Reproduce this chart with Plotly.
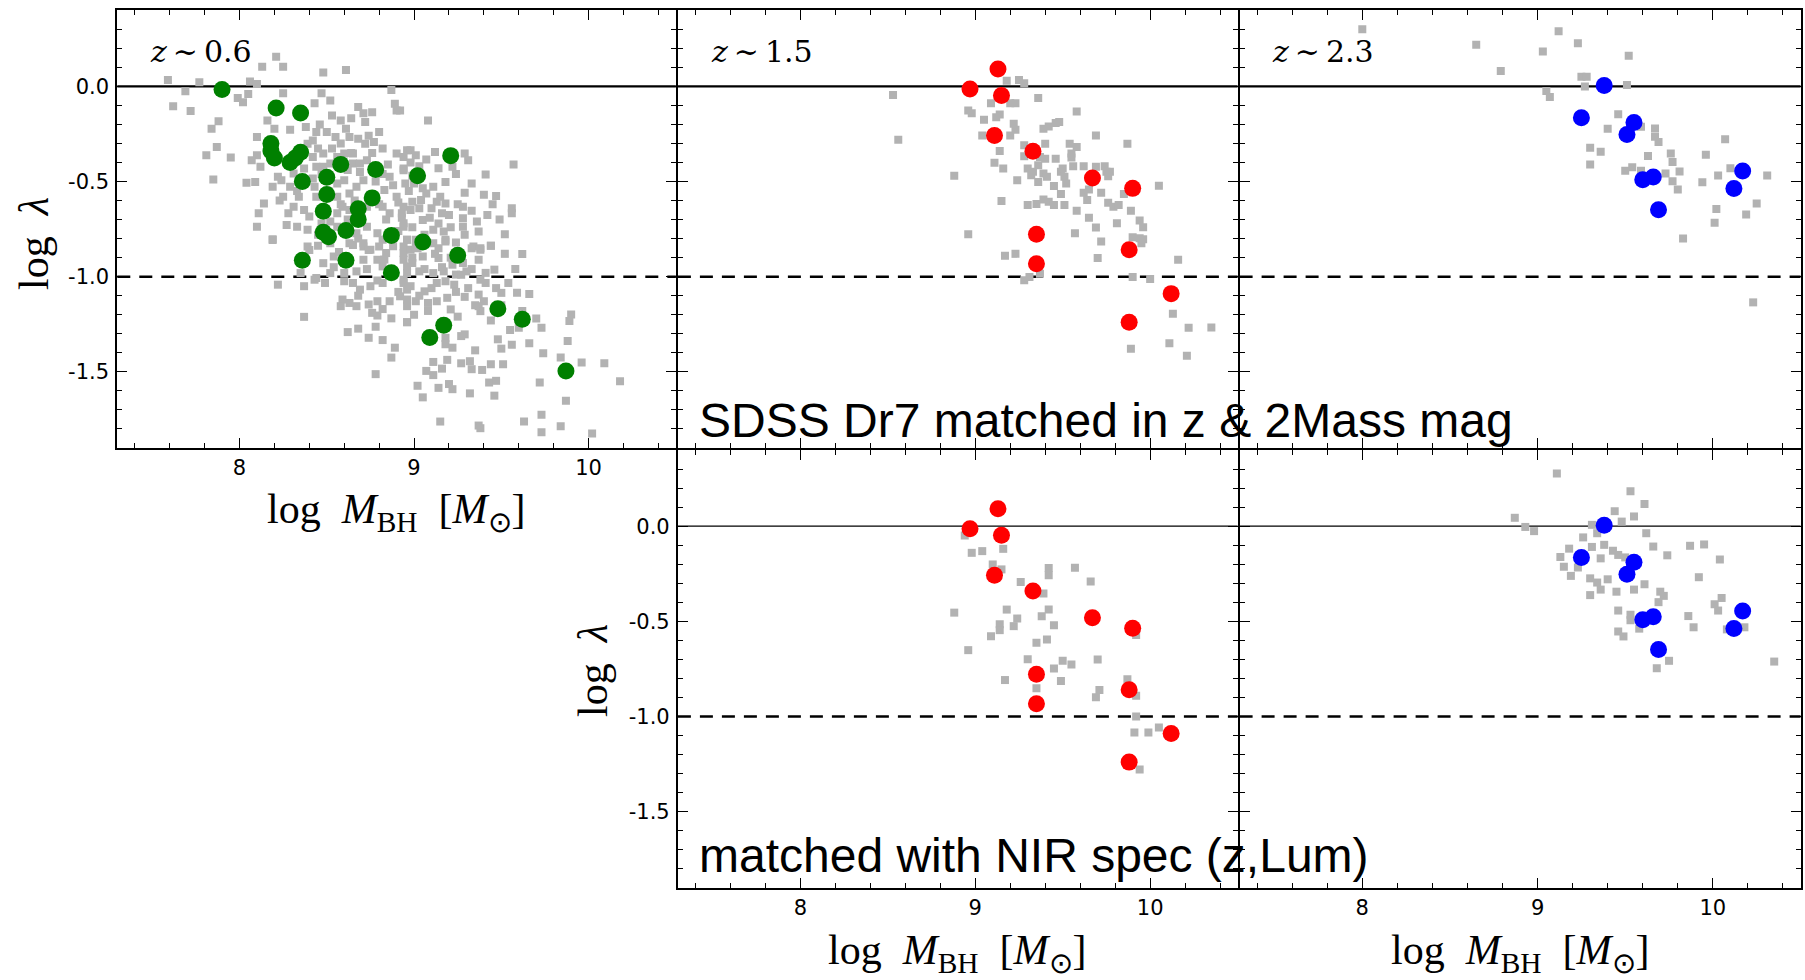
import plotly.graph_objects as go

# ---------------- data ----------------
# z~0.6 : SDSS DR7 comparison sample (grey squares)
mbh_z06_sdss = [
    8.21, 8.13, 8.25, 8.48, 8.61, 7.59, 7.77, 8.06, 8.10, 7.69, 7.62, 7.72, 7.99, 8.05, 8.02, 8.25,
    8.47, 8.52, 8.43, 8.87, 8.89, 8.90, 8.68, 8.71, 8.76, 8.64, 8.53, 8.58, 8.72, 7.88, 7.84, 8.16,
    8.20, 8.29, 8.38, 8.44, 8.50, 8.55, 8.61, 8.80, 8.10, 8.63, 8.68, 8.72, 8.77, 8.82, 8.65, 8.42,
    8.39, 8.45, 8.48, 8.53, 8.56, 8.60, 8.52, 8.48, 7.87, 7.81, 7.95, 8.10, 8.07, 8.12, 8.42, 8.44,
    8.65, 8.69, 8.73, 8.90, 8.96, 7.85, 8.04, 8.09, 8.22, 8.19, 8.24, 8.29, 8.31, 8.37, 8.42, 8.43,
    8.34, 8.25, 8.31, 8.14, 8.11, 8.28, 8.37, 8.40, 8.44, 8.56, 8.60, 8.56, 8.63, 8.67, 8.71, 8.86,
    8.94, 8.83, 8.90, 8.82, 8.86, 8.94, 8.56, 8.59, 8.63, 8.73, 8.10, 8.19, 8.27, 8.33, 8.39, 8.45,
    8.56, 8.67, 8.73, 8.79, 8.82, 8.94, 8.96, 8.71, 8.63,
    8.92, 9.08, 8.98, 8.94, 9.01, 9.07, 9.12, 9.29, 9.31, 9.22, 9.57, 9.41, 8.94, 8.95, 9.00, 9.05,
    9.11, 9.18, 9.07, 8.99, 9.04, 9.13, 9.18, 9.29, 9.47, 8.93, 8.98, 9.03, 9.10, 9.16, 9.20, 9.28,
    9.33, 9.42, 9.56, 9.56, 8.94, 9.05, 9.28, 9.11, 9.17, 9.28, 9.29, 9.37, 9.52, 8.96, 9.01, 9.18,
    9.34, 9.38, 9.44,
    8.19, 8.39, 8.45, 8.52, 8.65, 8.71, 8.75, 8.80, 8.84, 8.54, 8.48, 8.71, 8.79, 8.82, 8.94, 8.96,
    8.35, 8.44, 8.52, 8.60, 8.67, 8.22, 8.37, 8.43, 8.49, 8.60, 8.65, 8.69, 8.75, 8.82, 8.94, 8.96,
    8.59, 8.63, 8.58, 8.67, 8.74, 8.79, 8.86, 8.92, 8.96, 8.76, 8.79, 8.87, 8.96, 8.37, 8.62, 8.68,
    8.78, 8.74, 8.82, 8.89, 8.87, 8.78,
    8.94, 8.98, 9.01, 9.11, 9.14, 9.18, 9.33, 9.38, 9.44, 9.62, 8.94, 8.99, 9.05, 9.14, 9.22, 9.28,
    9.37, 9.46, 8.96, 9.03, 9.11, 9.17, 9.24, 9.30, 9.38, 9.41, 9.54, 8.94, 8.98, 9.06, 9.13, 9.18,
    9.23, 9.37, 9.40, 9.50, 9.59, 9.66, 8.96, 9.01, 9.08, 9.13, 9.19, 9.21, 9.29, 9.37, 9.38, 8.96,
    9.18, 9.29, 9.27, 9.18, 9.18, 9.22, 9.35, 9.48, 9.50, 9.56, 9.60, 9.66, 9.73, 9.74, 9.88, 9.89,
    9.90, 9.84, 9.96, 10.09, 9.11, 9.07, 9.11, 9.16, 9.19, 9.27, 9.32, 9.33, 9.39, 9.44, 9.51, 9.02,
    9.05, 9.14, 9.20, 9.22, 9.32, 9.43, 9.47, 9.46, 9.72, 9.87, 10.18, 9.15, 9.37, 9.38, 9.63, 9.73,
    9.73, 9.84, 10.02,
    8.47, 8.51, 8.62, 8.66, 8.70, 8.75, 8.78, 8.80, 8.84, 8.88, 8.91, 8.93, 8.97, 8.99, 8.85, 8.76,
    8.69, 8.58, 8.52, 8.62, 8.68, 8.74, 8.83, 8.88, 8.91, 8.99, 9.02, 9.06, 9.09, 9.14, 9.21, 9.24,
    9.12, 9.06, 9.16, 9.21, 9.27, 9.33, 9.31, 9.24, 9.10, 9.03, 8.91, 8.86, 8.79, 8.73, 8.63, 8.57,
    8.68, 8.82, 9.00, 9.08, 9.25, 9.35, 9.44, 9.41, 9.47, 9.36, 9.45, 9.40, 9.33, 9.24, 9.14, 9.03,
    8.98, 8.82, 8.64, 8.74, 8.58, 8.46, 8.35, 8.33, 8.23, 8.47, 8.40, 8.54, 8.99, 9.15, 9.25, 9.49,
    9.52, 9.58, 9.50, 9.62, 9.70, 9.55,
]
lam_z06_sdss = [
    0.155, 0.103, 0.103, 0.073, 0.086, 0.033, 0.021, 0.026, 0.012, -0.026, -0.104, -0.130, -0.061, -0.040, -0.083, -0.036,
    -0.036, -0.075, -0.089, -0.019, -0.092, -0.127, -0.109, -0.141, -0.136, -0.167, -0.153, -0.179, -0.188, -0.184, -0.223, -0.179,
    -0.223, -0.228, -0.214, -0.240, -0.240, -0.266, -0.223, -0.240, -0.266, -0.266, -0.275, -0.301, -0.292, -0.327, -0.353, -0.284,
    -0.301, -0.327, -0.353, -0.327, -0.371, -0.353, -0.406, -0.423, -0.319, -0.362, -0.374, -0.362, -0.388, -0.423, -0.371, -0.423,
    -0.406, -0.406, -0.388, -0.353, -0.336, -0.489, -0.507, -0.502, -0.475, -0.528, -0.493, -0.528, -0.458, -0.432, -0.484, -0.528,
    -0.580, -0.580, -0.632, -0.615, -0.667, -0.667, -0.650, -0.684, -0.580, -0.510, -0.493, -0.580, -0.563, -0.528, -0.493, -0.475,
    -0.441, -0.545, -0.580, -0.632, -0.667, -0.632, -0.667, -0.632, -0.650, -0.632, -0.737, -0.803, -0.728, -0.737, -0.754, -0.780,
    -0.737, -0.772, -0.737, -0.772, -0.806, -0.737, -0.806, -0.841, -0.824,
    -0.127, -0.179, -0.336, -0.371, -0.362, -0.385, -0.345, -0.353, -0.388, -0.423, -0.411, -0.463, -0.432, -0.510, -0.510, -0.536,
    -0.528, -0.502, -0.563, -0.606, -0.597, -0.606, -0.615, -0.559, -0.576, -0.667, -0.650, -0.641, -0.641, -0.667, -0.676, -0.632,
    -0.653, -0.676, -0.641, -0.667, -0.719, -0.702, -0.693, -0.754, -0.763, -0.737, -0.780, -0.763, -0.777, -0.806, -0.806, -0.806,
    -0.841, -0.850, -0.838,
    -0.807, -0.841, -0.838, -0.824, -0.833, -0.824, -0.859, -0.841, -0.876, -0.894, -0.929, -0.911, -0.911, -0.946, -0.876, -0.946,
    -0.981, -1.007, -0.981, -0.981, -0.972, -1.042, -1.050, -1.016, -1.033, -1.024, -1.033, -1.068, -1.050, -1.033, -1.016, -1.068,
    -1.120, -1.138, -1.155, -1.155, -1.146, -1.129, -1.129, -1.103, -1.155, -1.190, -1.204, -1.219, -1.239, -1.211, -1.291, -1.273,
    -1.263, -1.321, -1.333, -1.373, -1.425, -1.512,
    -0.841, -0.859, -0.841, -0.824, -0.850, -0.815, -0.850, -0.859, -0.838, -0.881, -0.911, -0.928, -0.894, -0.902, -0.937, -0.928,
    -0.911, -0.963, -0.981, -0.972, -0.981, -0.972, -0.989, -0.972, -1.016, -1.033, -1.033, -1.033, -1.050, -1.077, -1.033, -1.024,
    -1.042, -1.094, -1.129, -1.085, -1.085, -1.091, -1.120, -1.129, -1.138, -1.129, -1.111, -1.172, -1.106, -1.155, -1.181, -1.239,
    -1.242, -1.303, -1.312, -1.321, -1.355, -1.373, -1.387, -1.329, -1.378, -1.357, -1.268, -1.350, -1.268, -1.402, -1.338, -1.233,
    -1.199, -1.425, -1.451, -1.455, -1.448, -1.495, -1.517, -1.483, -1.437, -1.455, -1.444, -1.486, -1.490, -1.460, -1.460, -1.573,
    -1.634, -1.584, -1.564, -1.591, -1.613, -1.556, -1.547, -1.625, -1.556, -1.652, -1.549, -1.761, -1.782, -1.796, -1.761, -1.725,
    -1.817, -1.786, -1.824,
    -0.46, -0.55, -0.44, -0.60, -0.69, -0.57, -0.50, -0.62, -0.70, -0.52, -0.61, -0.69, -0.55, -0.47, -0.41, -0.35,
    -0.45, -0.62, -0.71, -0.70, -0.80, -0.86, -0.91, -0.84, -0.76, -0.74, -0.85, -0.78, -0.69, -0.72, -0.74, -0.82,
    -0.88, -0.96, -0.95, -0.90, -0.99, -0.96, -1.06, -1.08, -1.06, -1.10, -1.08, -0.99, -1.02, -0.96, -0.92, -0.87,
    -1.10, -1.17, -1.20, -1.18, -1.21, -1.15, -1.23, -0.98, -1.06, -0.71, -0.62, -0.57, -0.51, -0.46, -0.43, -0.42,
    -0.40, -0.46, -0.35, -0.26, -0.30, -0.20, -0.35, -0.55, -0.60, -0.72, -0.86, -0.95, -0.90, -0.58, -0.62, -0.70,
    -0.88, -0.96, -1.15, -1.18, -1.22, -1.28,
]

# z~0.6 : our sample (green circles)
mbh_z06 = [7.90, 8.21, 8.35, 8.18, 8.18, 8.20, 8.29, 8.32, 8.35, 8.58, 8.36, 8.50, 8.78, 9.02, 9.21, 8.50, 8.76,
           8.48, 8.68, 8.68, 8.48, 8.51, 8.61, 8.87, 9.05, 8.36, 8.61, 9.25, 8.87, 9.48, 9.62, 9.17, 9.09, 9.87]
lam_z06 = [-0.017, -0.114, -0.14, -0.30, -0.34, -0.376, -0.40, -0.376, -0.346, -0.41, -0.50, -0.477, -0.437, -0.47,
           -0.364, -0.568, -0.586, -0.656, -0.643, -0.70, -0.766, -0.79, -0.757, -0.783, -0.818, -0.914, -0.914,
           -0.888, -0.979, -1.168, -1.224, -1.255, -1.32, -1.495]

# z~1.5 : SDSS DR7 comparison (grey)
mbh_z15_sdss = [
    8.53, 8.56, 8.88, 8.96, 9.18, 9.25, 9.28, 9.36, 9.09, 9.20, 9.23, 8.96, 8.98, 9.05, 9.12, 9.14,
    9.22, 9.23, 9.04, 9.20, 9.39, 9.42, 9.46, 9.48, 9.58, 9.69, 9.87, 9.14, 9.28, 9.28, 9.40, 9.37,
    9.40, 9.46, 9.54, 9.58, 9.55, 9.55, 9.11, 9.16, 9.24, 9.30, 9.33, 9.36, 9.32, 9.36, 9.39, 9.41,
    9.45, 9.49, 9.50, 9.51, 9.52, 9.49, 9.56, 9.62, 9.69, 9.74, 9.75, 9.77, 9.76, 9.62, 9.65, 9.64,
    9.72, 9.85, 9.15, 9.30, 9.35, 9.39, 9.42, 9.45, 9.51, 9.58, 9.65, 9.76, 9.79, 9.82, 9.89, 9.81,
    9.69, 9.94, 9.96, 9.57, 9.72, 9.90, 9.94, 9.96, 9.95, 9.70, 9.17, 9.23, 10.16, 9.28, 9.31, 9.37,
    9.90, 10.00, 10.13, 10.22, 10.11, 9.89, 10.21, 10.05, 10.35,
]
lam_z15_sdss = [
    -0.045, -0.280, -0.470, -0.777, 0.030, 0.033, 0.016, -0.061, -0.089, -0.089, -0.089, -0.127, -0.141, -0.176, -0.162, -0.148,
    -0.197, -0.228, -0.258, -0.258, -0.223, -0.211, -0.193, -0.188, -0.132, -0.258, -0.301, -0.340, -0.310, -0.367, -0.301, -0.371,
    -0.380, -0.380, -0.301, -0.319, -0.353, -0.374, -0.402, -0.432, -0.493, -0.432, -0.449, -0.414, -0.467, -0.502, -0.458, -0.475,
    -0.524, -0.449, -0.432, -0.475, -0.510, -0.566, -0.420, -0.420, -0.423, -0.420, -0.449, -0.449, -0.472, -0.559, -0.542, -0.597,
    -0.559, -0.566, -0.603, -0.624, -0.618, -0.594, -0.606, -0.624, -0.624, -0.653, -0.690, -0.611, -0.632, -0.624, -0.653, -0.719,
    -0.742, -0.705, -0.740, -0.772, -0.815, -0.793, -0.798, -0.803, -0.824, -0.902, -0.890, -0.880, -0.911, -1.019, -1.002, -0.984,
    -1.002, -1.012, -1.195, -1.268, -1.350, -1.378, -1.416, -0.522, -1.267,
]

# z~1.5 : our sample (red circles), identical in both rows
mbh_z15 = [9.13, 8.97, 9.15, 9.11, 9.33, 9.67, 9.90, 9.35, 9.88, 9.35, 10.12, 9.88]
lam_z15 = [0.091, -0.014, -0.048, -0.258, -0.341, -0.481, -0.536, -0.777, -0.859, -0.932, -1.089, -1.239]

# z~2.3 : SDSS DR7 comparison (grey)
mbh_z23_sdss = [
    8.00, 8.65, 8.79, 9.03, 9.12, 9.23, 9.52, 9.25, 9.28, 9.27, 9.05, 9.07, 9.51, 9.46, 9.40, 9.59,
    9.67, 9.67, 9.69, 9.30, 9.36, 9.30, 9.50, 9.54, 9.59, 9.63, 9.76, 9.77, 9.73, 9.81, 9.77, 9.80,
    9.94, 9.96, 10.07, 10.03, 10.10, 10.31, 10.02, 10.01, 10.19, 10.25, 9.83, 10.23,
]
lam_z23_sdss = [
    0.300, 0.218, 0.080, 0.183, 0.289, 0.227, 0.161, 0.051, 0.051, -0.001, -0.025, -0.056, 0.007, -0.146, -0.223, -0.212,
    -0.221, -0.265, -0.293, -0.322, -0.344, -0.410, -0.443, -0.425, -0.443, -0.366, -0.353, -0.397, -0.458, -0.447, -0.498, -0.542,
    -0.504, -0.359, -0.278, -0.469, -0.430, -0.469, -0.645, -0.717, -0.673, -0.616, -0.799, -1.135,
]

# z~2.3 : our sample (blue circles), identical in both rows
mbh_z23 = [9.38, 9.25, 9.55, 9.51, 9.60, 9.66, 9.69, 10.17, 10.12]
lam_z23 = [0.005, -0.165, -0.190, -0.253, -0.491, -0.476, -0.648, -0.445, -0.537]

# z~1.5 : matched with NIR spectra (grey)
mbh_z15_nir = [8.88, 8.96, 8.94, 8.98, 9.04, 9.16, 9.10, 9.15, 9.26, 9.42, 9.42, 9.57, 9.66, 9.39, 9.18, 9.24,
               9.22, 9.14, 9.14, 9.09, 9.38, 9.42, 9.45, 9.41, 9.35, 9.30, 9.45, 9.50, 9.55, 9.70, 9.17, 9.35,
               9.49, 9.71, 9.69, 9.87, 9.92, 9.92, 9.92, 9.91, 9.99, 10.05, 9.94]
lam_z15_nir = [-0.454, -0.651, -0.049, -0.140, -0.131, -0.119, -0.201, -0.227, -0.293, -0.220, -0.258, -0.218, -0.290,
               -0.354, -0.438, -0.485, -0.525, -0.515, -0.546, -0.578, -0.473, -0.438, -0.520, -0.595, -0.612, -0.699,
               -0.747, -0.707, -0.726, -0.700, -0.808, -0.851, -0.813, -0.860, -0.898, -0.804, -0.891, -0.572, -0.999,
               -1.083, -1.083, -1.057, -1.278]

# z~2.3 : matched with NIR spectra (grey)
mbh_z23_nir = [9.11, 8.87, 8.93, 8.98, 9.44, 9.48, 9.53, 9.61, 9.55, 9.31, 9.34, 9.26, 9.62, 9.38, 9.43, 9.46,
               9.50, 9.31, 9.18, 9.13, 9.36, 9.15, 9.19, 9.23, 9.30, 9.34, 9.40, 9.36, 9.30, 9.45, 9.55, 9.61,
               9.66, 9.74, 9.70, 9.72, 9.69, 9.87, 9.95, 10.04, 9.92, 10.05, 10.01, 10.03, 9.86, 9.89, 9.46, 9.53,
               9.53, 9.46, 9.49, 9.58, 10.18, 10.08, 9.75, 9.68, 10.35]
lam_z23_nir = [0.277, 0.044, -0.004, -0.026, 0.079, 0.024, 0.183, 0.117, 0.051, 0.007, -0.037, -0.059, -0.037, -0.098,
               -0.129, -0.151, -0.164, -0.109, -0.118, -0.162, -0.169, -0.213, -0.261, -0.217, -0.274, -0.296, -0.279,
               -0.333, -0.362, -0.344, -0.333, -0.305, -0.107, -0.153, -0.344, -0.366, -0.399, -0.103, -0.096, -0.175,
               -0.268, -0.377, -0.410, -0.443, -0.472, -0.531, -0.443, -0.465, -0.494, -0.553, -0.579, -0.538, -0.531,
               -0.542, -0.707, -0.746, -0.711]

panel_labels = ["<i>z</i>\u2009∼\u20090.6", "<i>z</i>\u2009∼\u20091.5", "<i>z</i>\u2009∼\u20092.3"]
x_tickvals = [8, 9, 10]
x_ticktext = ["8", "9", "10"]
y_tickvals = [0.0, -0.5, -1.0, -1.5]
y_ticktext = ["0.0", "-0.5", "-1.0", "-1.5"]
x_range = [7.3, 10.5]
y_range = [-1.9, 0.4]

# ---------------- layout geometry (pixels) ----------------
W, H = 1805, 980
LW = 2  # frame line width
col_px = [(116.3, 676.9), (676.9, 1238.6), (1238.6, 1801.5)]
row_px = [(9.2, 449.0), (449.0, 889.0)]


def xdom(c):
    a, b = col_px[c]
    return [(a + LW / 2) / W, (b - LW / 2) / W]


def ydom(r):
    a, b = row_px[r]
    return [1 - (b - LW / 2) / H, 1 - (a + LW / 2) / H]


GREY = "#b2b2b2"
fig = go.Figure()

# panels: (row, col, show_xlabels, show_ylabels)
panels = [(0, 0, True, True), (0, 1, False, False), (0, 2, False, False),
          (1, 1, True, True), (1, 2, True, False)]

grey_sets = {
    (0, 0): (mbh_z06_sdss, lam_z06_sdss),
    (0, 1): (mbh_z15_sdss, lam_z15_sdss),
    (0, 2): (mbh_z23_sdss, lam_z23_sdss),
    (1, 1): (mbh_z15_nir, lam_z15_nir),
    (1, 2): (mbh_z23_nir, lam_z23_nir),
}
color_sets = {
    (0, 0): (mbh_z06, lam_z06, "#008000"),
    (0, 1): (mbh_z15, lam_z15, "#ff0000"),
    (0, 2): (mbh_z23, lam_z23, "#0000ff"),
    (1, 1): (mbh_z15, lam_z15, "#ff0000"),
    (1, 2): (mbh_z23, lam_z23, "#0000ff"),
}

tickfont = dict(family="DejaVu Sans", size=21, color="black")
for i, (r, c, sx, sy) in enumerate(panels):
    n = "" if i == 0 else str(i + 1)
    xa, ya = "x" + n, "y" + n
    common = dict(showline=True, linecolor="black", linewidth=LW, mirror="allticks",
                  ticks="inside", ticklen=10, tickwidth=1.3, tickcolor="black",
                  showgrid=False, zeroline=False, tickfont=tickfont, fixedrange=True)
    fig.layout["xaxis" + n] = dict(
        domain=xdom(c), anchor=ya, range=x_range, tickmode="array",
        tickvals=x_tickvals, ticktext=x_ticktext, showticklabels=sx,
        minor=dict(ticks="inside", ticklen=5, tickwidth=1, tickcolor="black",
                   tickmode="linear", tick0=0, dtick=0.2),
        **common)
    fig.layout["yaxis" + n] = dict(
        domain=ydom(r), anchor=xa, range=y_range, tickmode="array",
        tickvals=y_tickvals, ticktext=y_ticktext, showticklabels=sy, ticklabelstandoff=2,
        minor=dict(ticks="inside", ticklen=5, tickwidth=1, tickcolor="black",
                   tickmode="linear", tick0=0, dtick=0.1),
        **common)

    gx, gy = grey_sets[(r, c)]
    fig.add_trace(go.Scatter(x=gx, y=gy, mode="markers", xaxis=xa, yaxis=ya,
                             marker=dict(symbol="square", size=8, color=GREY, line=dict(width=0)),
                             showlegend=False, hoverinfo="skip"))
    cx, cy, col = color_sets[(r, c)]
    fig.add_trace(go.Scatter(x=cx, y=cy, mode="markers", xaxis=xa, yaxis=ya,
                             marker=dict(symbol="circle", size=17, color=col, line=dict(width=0)),
                             showlegend=False, hoverinfo="skip"))

    # reference lines
    fig.add_shape(type="line", xref=xa + " domain", yref=ya, x0=0, x1=1, y0=0, y1=0,
                  line=dict(color="black", width=2.2 if r == 0 else 1.2), layer="below")
    fig.add_shape(type="line", xref=xa + " domain", yref=ya, x0=0, x1=1, y0=-1, y1=-1,
                  line=dict(color="black", width=2.5, dash="13px,9px"), layer="below")

    if r == 0:
        fig.add_annotation(xref=xa + " domain", yref=ya + " domain", x=0.055, y=0.905,
                           xanchor="left", yanchor="middle", showarrow=False, text=panel_labels[c],
                           font=dict(family="DejaVu Serif", size=30, color="black"))

# axis titles
title_font = dict(family="Liberation Serif", size=42, color="black")
xtitle = "log  <i>M</i><sub>BH</sub>  [<i>M</i><sub>⊙</sub>]"
ytitle = "log  <i>λ</i>"
for (cx_px, cy_px) in [(396.6, 512), (957.7, 953), (1520, 953)]:
    fig.add_annotation(xref="paper", yref="paper", x=cx_px / W, y=1 - cy_px / H,
                       xanchor="center", yanchor="middle", showarrow=False, text=xtitle, font=title_font)
for (cx_px, cy_px) in [(34, 244), (593, 671)]:
    fig.add_annotation(xref="paper", yref="paper", x=cx_px / W, y=1 - cy_px / H,
                       xanchor="center", yanchor="middle", showarrow=False, text=ytitle,
                       font=title_font, textangle=-90)

# big notes
note_font = dict(family="Liberation Sans", size=48, color="black")
fig.add_annotation(xref="paper", yref="paper", x=697 / W, y=1 - 421 / H, xanchor="left", yanchor="middle",
                   showarrow=False, text="SDSS Dr7 matched in z &amp; 2Mass mag", font=note_font)
fig.add_annotation(xref="paper", yref="paper", x=697 / W, y=1 - 855 / H, xanchor="left", yanchor="middle",
                   showarrow=False, text="matched with NIR spec (z,Lum)", font=note_font)

fig.update_layout(width=W, height=H, autosize=False, margin=dict(l=0, r=0, t=0, b=0),
                  paper_bgcolor="white", plot_bgcolor="white")

fig.write_html("out.html", config={"displayModeBar": False})
